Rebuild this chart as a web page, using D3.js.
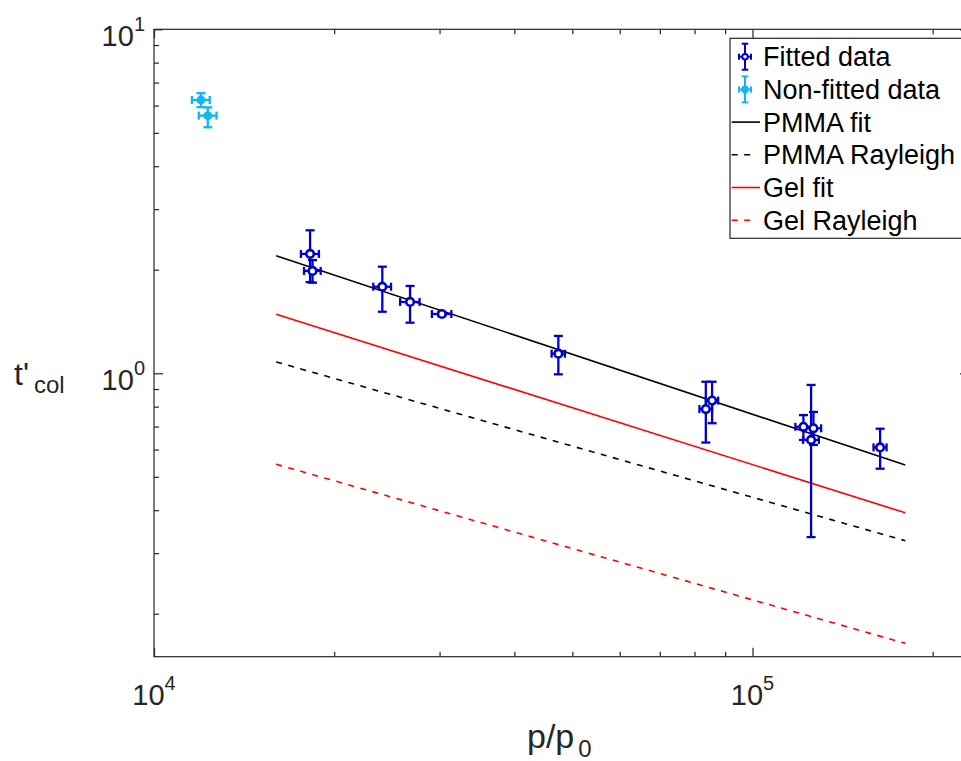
<!DOCTYPE html>
<html>
<head>
<meta charset="utf-8">
<script src="https://cdn.jsdelivr.net/npm/d3@7"></script>
<style>
  html, body { margin: 0; padding: 0; background: #fff; }
  svg { display: block; font-family: "Liberation Sans", Arial, Helvetica, sans-serif; }
</style>
</head>
<body>
<svg id="chart" width="961" height="761"></svg>
<script>
// Fitted collapse times (p/p0, t'col) with error bounds
const pFit      = [18230, 18400, 24070, 26780, 30260, 47380, 83560, 85600, 121640, 126420, 125280, 163400];
const pFitErr   = [630, 590, 820, 1000, 1130, 1210, 2030, 2020, 3700, 3800, 3800, 4100];
const tFit      = [2.223, 1.984, 1.785, 1.612, 1.487, 1.140, 0.787, 0.833, 0.699, 0.692, 0.640, 0.609];
const tFitLow   = [1.842, 1.834, 1.510, 1.403, 1.465, 0.993, 0.629, 0.716, 0.640, 0.619, 0.334, 0.528];
const tFitHigh  = [2.604, 2.134, 2.041, 1.794, 1.509, 1.284, 0.945, 0.945, 0.756, 0.772, 0.925, 0.690];

// Points excluded from the fit
const pNon      = [11980, 12300];
const pNonErr   = [410, 420];
const tNon      = [6.23, 5.61];
const tNonLow   = [5.94, 5.19];
const tNonHigh  = [6.52, 5.93];

// Model lines, evaluated at the ends of the fitted range
const lineP        = [1.6e4, 1.8e5];
const pmmaFit      = [2.197, 0.541];
const pmmaRayleigh = [1.079, 0.326];
const gelFit       = [1.484, 0.393];
const gelRayleigh  = [0.544, 0.164];

// Axis ticks
const xMajor = [1e4, 1e5];
const xMinor = [2e4, 3e4, 4e4, 5e4, 6e4, 7e4, 8e4, 9e4, 2e5];
const yMajor = [1, 10];
const yMinor = [0.2, 0.3, 0.4, 0.5, 0.6, 0.7, 0.8, 0.9, 2, 3, 4, 5, 6, 7, 8, 9];
const xTickExp = ["4", "5"];
const yTickExp = ["0", "1"];

const legendLabels = ["Fitted data", "Non-fitted data", "PMMA fit", "PMMA Rayleigh", "Gel fit", "Gel Rayleigh"];

const BLUE = "#0000CC", CYAN = "#0FB8F0", AXIS = "#262626";

const svg = d3.select("#chart");
const plotL = 154, plotR = 969, plotT = 29.3, plotB = 656.7;
const x = d3.scaleLog().domain([1e4, 2.3e5]).range([plotL, plotR]);
const y = d3.scaleLog().domain([0.15, 10]).range([plotB, plotT]);

// ---- axes: ticks on all four sides, pointing inward ----
function tickAxis(gen, vals, size, tx, ty) {
  const g = svg.append("g").attr("transform", `translate(${tx},${ty})`)
    .call(gen.tickValues(vals).tickSize(size).tickFormat(""));
  g.select(".domain").remove();
  g.selectAll("line").attr("stroke", AXIS).attr("stroke-width", 1.2);
}
tickAxis(d3.axisBottom(x), xMajor, -9, 0, plotB);
tickAxis(d3.axisBottom(x), xMinor, -5, 0, plotB);
tickAxis(d3.axisTop(x), xMajor, -9, 0, plotT);
tickAxis(d3.axisTop(x), xMinor, -5, 0, plotT);
tickAxis(d3.axisLeft(y), yMajor, -9, plotL, 0);
tickAxis(d3.axisLeft(y), yMinor, -5, plotL, 0);
tickAxis(d3.axisRight(y), yMajor, -9, plotR, 0);
tickAxis(d3.axisRight(y), yMinor, -5, plotR, 0);

svg.append("rect")
  .attr("x", plotL).attr("y", plotT)
  .attr("width", plotR - plotL).attr("height", plotB - plotT)
  .attr("fill", "none").attr("stroke", AXIS).attr("stroke-width", 1.2);

// Tick labels as powers of ten
xMajor.forEach((v, i) => {
  const t = svg.append("text").attr("x", x(v)).attr("y", 705)
    .attr("text-anchor", "middle").attr("font-size", 29).attr("fill", AXIS);
  t.append("tspan").text("10");
  t.append("tspan").attr("dy", -15).attr("font-size", 20).text(xTickExp[i]);
});
yMajor.forEach((v, i) => {
  const t = svg.append("text").attr("x", 145).attr("y", y(v) + 17)
    .attr("text-anchor", "end").attr("font-size", 29).attr("fill", AXIS);
  t.append("tspan").text("10");
  t.append("tspan").attr("dy", -15).attr("font-size", 20).text(yTickExp[i]);
});

// Axis titles
const yl = svg.append("text").attr("x", 14).attr("y", 385).attr("font-size", 32).attr("fill", AXIS);
yl.append("tspan").text("t'");
yl.append("tspan").attr("dx", 5).attr("dy", 8).attr("font-size", 24).text("col");

const xl = svg.append("text").attr("x", 527).attr("y", 748).attr("font-size", 34).attr("fill", AXIS);
xl.append("tspan").text("p/p");
xl.append("tspan").attr("dx", 4).attr("dy", 9).attr("font-size", 24).text("0");

// ---- model lines ----
const line = d3.line().x(d => x(d[0])).y(d => y(d[1]));
const models = [
  { v: pmmaFit,      color: "#000000", dash: null },
  { v: pmmaRayleigh, color: "#000000", dash: "6,6.5" },
  { v: gelFit,       color: "#FF0000", dash: null },
  { v: gelRayleigh,  color: "#FF0000", dash: "6,6.5" }
];
models.forEach(m => {
  svg.append("path")
    .attr("d", line(lineP.map((p, i) => [p, m.v[i]])))
    .attr("fill", "none").attr("stroke", m.color).attr("stroke-width", 1.6)
    .attr("stroke-dasharray", m.dash);
});

// ---- error bars ----
function errorBars(px, pe, ty, tlo, thi, color, filled) {
  const g = svg.append("g").attr("stroke", color).attr("stroke-width", 2.3).attr("fill", "none");
  px.forEach((p, i) => {
    const cx = x(p), cy = y(ty[i]);
    const y0 = y(tlo[i]), y1 = y(thi[i]);
    const x0 = x(p - pe[i]), x1 = x(p + pe[i]);
    const capV = 4.5, capH = 4;
    g.append("line").attr("x1", cx).attr("x2", cx).attr("y1", y0).attr("y2", y1);
    g.append("line").attr("x1", cx - capV).attr("x2", cx + capV).attr("y1", y0).attr("y2", y0);
    g.append("line").attr("x1", cx - capV).attr("x2", cx + capV).attr("y1", y1).attr("y2", y1);
    g.append("line").attr("x1", x0).attr("x2", x1).attr("y1", cy).attr("y2", cy);
    g.append("line").attr("x1", x0).attr("x2", x0).attr("y1", cy - capH).attr("y2", cy + capH);
    g.append("line").attr("x1", x1).attr("x2", x1).attr("y1", cy - capH).attr("y2", cy + capH);
  });
  px.forEach((p, i) => {
    g.append("circle").attr("cx", x(p)).attr("cy", y(ty[i]))
      .attr("r", filled ? 3.4 : 3.8)
      .attr("stroke-width", filled ? 2 : 2.6)
      .attr("fill", filled ? color : "#fff");
  });
}
errorBars(pFit, pFitErr, tFit, tFitLow, tFitHigh, BLUE, false);
errorBars(pNon, pNonErr, tNon, tNonLow, tNonHigh, CYAN, true);

// ---- legend ----
const lg = svg.append("g");
lg.append("rect").attr("x", 730).attr("y", 38.3).attr("width", 260).attr("height", 200)
  .attr("fill", "#fff").attr("stroke", AXIS).attr("stroke-width", 1.2);
const rowY = i => 56.7 + i * 32.7;
legendLabels.forEach((lab, i) => {
  lg.append("text").attr("x", 763).attr("y", rowY(i) + 9.5)
    .attr("font-size", 27).attr("fill", "#000").text(lab);
});
[[BLUE, false], [CYAN, true]].forEach(([c, filled], i) => {
  const cy = rowY(i), cx = 745;
  const s = lg.append("g").attr("stroke", c).attr("stroke-width", 2).attr("fill", "none");
  s.append("line").attr("x1", cx).attr("x2", cx).attr("y1", cy - 13).attr("y2", cy + 13);
  s.append("line").attr("x1", cx - 3.3).attr("x2", cx + 3.3).attr("y1", cy - 13).attr("y2", cy - 13);
  s.append("line").attr("x1", cx - 3.3).attr("x2", cx + 3.3).attr("y1", cy + 13).attr("y2", cy + 13);
  s.append("line").attr("x1", cx - 6).attr("x2", cx + 6).attr("y1", cy).attr("y2", cy);
  s.append("line").attr("x1", cx - 6).attr("x2", cx - 6).attr("y1", cy - 3).attr("y2", cy + 3);
  s.append("line").attr("x1", cx + 6).attr("x2", cx + 6).attr("y1", cy - 3).attr("y2", cy + 3);
  s.append("circle").attr("cx", cx).attr("cy", cy).attr("r", 2.8).attr("fill", filled ? c : "#fff");
});
models.forEach((m, i) => {
  const cy = rowY(i + 2);
  lg.append("line").attr("x1", 731.7).attr("x2", m.dash ? 751 : 760).attr("y1", cy).attr("y2", cy)
    .attr("stroke", m.color).attr("stroke-width", 1.6).attr("stroke-dasharray", m.dash);
});
</script>
</body>
</html>
